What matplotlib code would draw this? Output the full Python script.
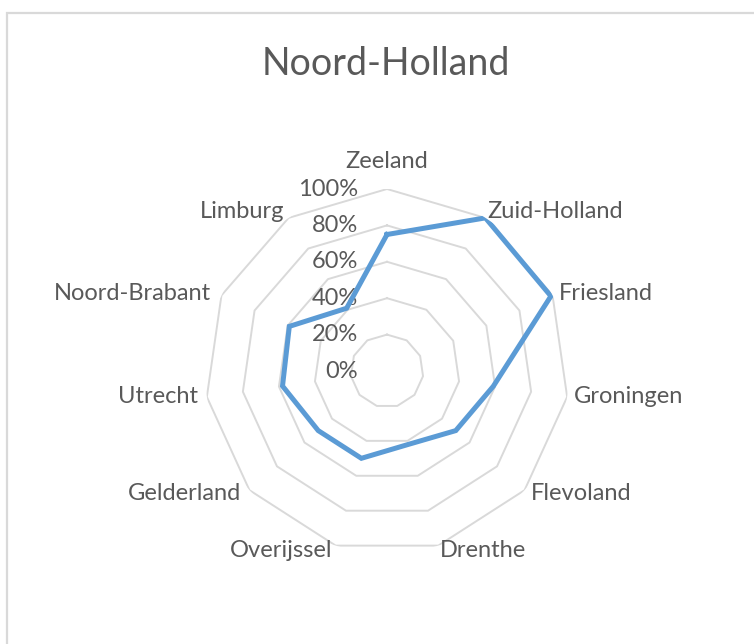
import numpy as np
import matplotlib
matplotlib.use("Agg")
import matplotlib.pyplot as plt
from matplotlib.patches import Rectangle

title = "Noord-Holland"
provinces = ["Zeeland", "Zuid-Holland", "Friesland", "Groningen", "Flevoland",
             "Drenthe", "Overijssel", "Gelderland", "Utrecht", "Noord-Brabant",
             "Limburg"]
values = [75, 100, 99, 59, 50, 42, 50, 50, 58, 59, 41]
rings = [20, 40, 60, 80, 100]
ring_labels = ["0%", "20%", "40%", "60%", "80%", "100%"]

text_col = "#595959"
grid_col = "#d9d9d9"
line_col = "#5b9bd5"
font = ["Lato", "DejaVu Sans"]

W, H = 754, 644
fig = plt.figure(figsize=(W / 100, H / 100), dpi=100)
plt.rcParams["font.family"] = font

# chart frame (only top and left edges visible)
fig.patches.append(Rectangle((7 / W, -0.1), 1.2, 1 - 13 / H + 0.1,
                             transform=fig.transFigure, fill=False,
                             edgecolor=grid_col, linewidth=1.6))

cx, cy, R = 387, 371, 182
ax = fig.add_axes([(cx - R) / W, (H - cy - R) / H, 2 * R / W, 2 * R / H],
                  projection="polar")
ax.set_theta_zero_location("N")
ax.set_theta_direction(-1)
ax.set_ylim(0, 100)
ax.grid(False)
ax.spines["polar"].set_visible(False)
ax.set_xticks([])
ax.set_yticks([])
ax.patch.set_alpha(0)

n = len(provinces)
theta = np.linspace(0, 2 * np.pi, n, endpoint=False)
theta_c = np.append(theta, theta[0])

# polygon gridlines
for r in rings:
    ax.plot(theta_c, [r] * (n + 1), color=grid_col, lw=1.4, zorder=1)

# series
ax.plot(theta_c, values + values[:1], color=line_col, lw=3.6,
        solid_joinstyle="miter", zorder=3)

# radial axis labels, right-aligned left of the top spoke
for r, lab in zip([0] + rings, ring_labels):
    ax.annotate(lab, xy=(0, r), xytext=(-29 * 0.72, 0),
                textcoords="offset points", ha="right", va="center",
                fontsize=17, color=text_col, zorder=2)

# category labels
offsets = [(0, 27, "center"), (2, 6, "left"), (6, 2, "left"), (7, 0, "left"),
           (6, -3, "left"), (2, -5, "left"), (-3, -5, "right"),
           (-8, -3, "right"), (-9, 0, "right"), (-10, 2, "right"),
           (-4, 6, "right")]
for t, name, (dx, dy, ha) in zip(theta, provinces, offsets):
    ax.annotate(name, xy=(t, 100), xytext=(dx * 0.72, dy * 0.72),
                textcoords="offset points", ha=ha, va="center",
                fontsize=17, color=text_col, annotation_clip=False)

fig.text(386 / W, 1 - 64 / H, title, ha="center", va="center",
         fontsize=27, color=text_col)

fig.savefig("out.png", dpi=100, facecolor="white")
